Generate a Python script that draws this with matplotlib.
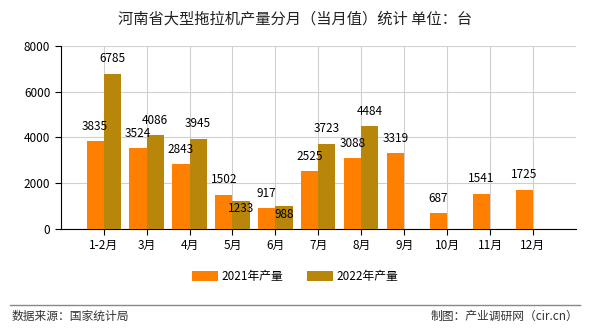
import matplotlib
matplotlib.use("Agg")
import matplotlib.pyplot as plt
import numpy as np

plt.rcParams['font.family'] = ['Noto Sans CJK SC', 'DejaVu Sans']

# 数据
months = ["1-2月", "3月", "4月", "5月", "6月", "7月", "8月", "9月", "10月", "11月", "12月"]
prod_2021 = [3835, 3524, 2843, 1502, 917, 2525, 3088, 3319, 687, 1541, 1725]
prod_2022 = [6785, 4086, 3945, 1233, 988, 3723, 4484]
yticks = [0, 2000, 4000, 6000, 8000]

c2021 = "#FF8000"
c2022 = "#B8860B"

fig = plt.figure(figsize=(5.9, 3.3), dpi=100)
ax = fig.add_axes([0.103, 0.306, 0.873, 0.555])

x = np.arange(len(months))
w = 0.4
b1 = ax.bar(x - w / 2, prod_2021, w, color=c2021, label="2021年产量", zorder=3)
x2 = x[:len(prod_2022)]
b2 = ax.bar(x2 + w / 2, prod_2022, w, color=c2022, label="2022年产量", zorder=3)

for xi, v in zip(x, prod_2021):
    ax.annotate(str(v), (xi - w / 2, v), xytext=(0, 6), textcoords="offset points",
                ha="center", va="bottom", fontsize=8.5, zorder=4)
for xi, v, v0 in zip(x2, prod_2022, prod_2021):
    if v - v0 < 300:
        # 与左侧标签相近时放到柱顶下方
        ax.annotate(str(v), (xi + w / 2, v), xytext=(0, -1), textcoords="offset points",
                    ha="center", va="top", fontsize=8.5, zorder=4)
    else:
        ax.annotate(str(v), (xi + w / 2, v), xytext=(0, 6), textcoords="offset points",
                    ha="center", va="bottom", fontsize=8.5, zorder=4)

ax.set_xlim(-1, len(months))
ax.set_ylim(0, 8000)
ax.set_xticks(x)
ax.set_xticklabels(months, fontsize=8.5)
ax.set_yticks(yticks)
ax.set_yticklabels([str(t) for t in yticks], fontsize=8.5)
ax.grid(True, color="#d0d0d0", linewidth=0.8, zorder=0)
for s in ["top", "right"]:
    ax.spines[s].set_visible(False)
ax.spines["left"].set_color("black")
ax.spines["bottom"].set_color("black")
ax.tick_params(length=4, width=0.8)
ax.set_facecolor("none")

fig.text(0.5, 0.942, "河南省大型拖拉机产量分月（当月值）统计 单位：台", ha="center", va="center",
         fontsize=11, color="#222222")
fig.legend(handles=[b1, b2], loc="center", bbox_to_anchor=(0.5, 0.163), ncol=2, frameon=False,
           fontsize=8.5, handlelength=2.2, handleheight=0.9, columnspacing=2.0, handletextpad=0.3)

fig.add_artist(plt.Line2D([0.017, 0.983], [0.076, 0.076], color="#888888", linewidth=1))
fig.text(0.02, 0.042, "数据来源：国家统计局", ha="left", va="center", fontsize=8.5, color="#333333")
fig.text(0.98, 0.042, "制图：产业调研网（cir.cn）", ha="right", va="center", fontsize=8.5, color="#333333")

fig.savefig("out.png", dpi=100)
